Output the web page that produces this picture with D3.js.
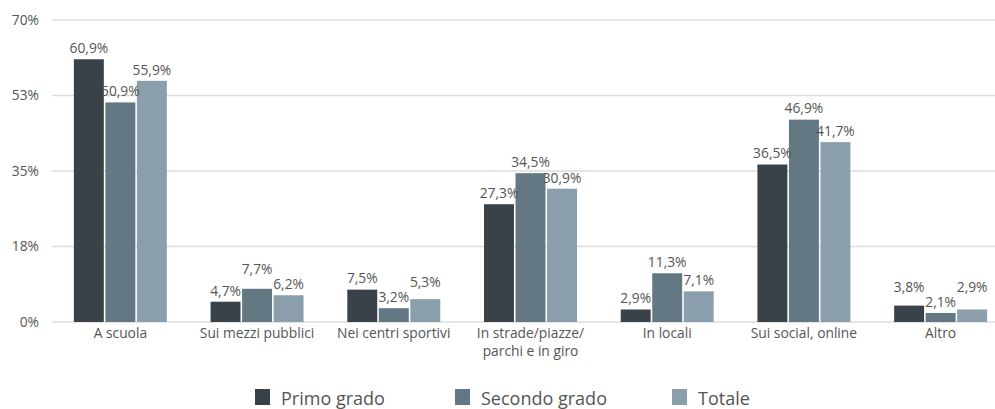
<!DOCTYPE html>
<html><head><meta charset="utf-8">
<script src="https://cdn.jsdelivr.net/npm/d3@7"></script>
<style>
body{margin:0;background:#fff;}
text{font-family:"Open Sans",sans-serif;}
</style></head>
<body><svg id="c" width="995" height="409"></svg>
<script>
const categories = ["A scuola","Sui mezzi pubblici","Nei centri sportivi","In strade/piazze/\nparchi e in giro","In locali","Sui social, online","Altro"];
const seriesNames = ["Primo grado","Secondo grado","Totale"];
const primoGrado = [60.9,4.7,7.5,27.3,2.9,36.5,3.8];
const secondoGrado = [50.9,7.7,3.2,34.5,11.3,46.9,2.1];
const totale = [55.9,6.2,5.3,30.9,7.1,41.7,2.9];
const yTicks = [0,17.5,35,52.5,70];
const yTickLabels = ["0%","18%","35%","53%","70%"];
const colors = ["#3a4249","#637882","#8a9fab"];

const seriesValues = [primoGrado, secondoGrado, totale];
const svg = d3.select("#c");
const y = d3.scaleLinear().domain([0,70]).range([322,20]);
const x0 = d3.scaleBand().domain(categories).range([52,1009]).paddingInner(0.32).paddingOuter(0.16);
const x1 = d3.scaleBand().domain(seriesNames).range([0,x0.bandwidth()]).paddingInner(0.05);

svg.append("g").selectAll("line").data(yTicks).join("line")
  .attr("x1",52).attr("x2",995)
  .attr("y1",d=>y(d)).attr("y2",d=>y(d))
  .attr("stroke","#dcdcdc").attr("stroke-width",1.5);

svg.append("g").selectAll("text").data(yTicks).join("text")
  .attr("x",39).attr("y",d=>y(d)).attr("dy","0.35em")
  .attr("text-anchor","end").attr("font-size",13.8).attr("fill","#555")
  .text((d,i)=>yTickLabels[i]);

const groups = svg.append("g").selectAll("g").data(categories).join("g")
  .attr("transform",d=>`translate(${x0(d)},0)`);
groups.each(function(cat,ci){
  const g = d3.select(this);
  seriesNames.forEach((s,si)=>{
    const v = seriesValues[si][ci];
    g.append("rect").attr("x",x1(s)).attr("width",x1.bandwidth())
      .attr("y",y(v)).attr("height",y(0)-y(v)).attr("fill",colors[si]);
  });
  const labels = seriesNames.map((s,si)=>{
    const v = seriesValues[si][ci];
    const t = g.append("text").attr("x",x1(s)+x1.bandwidth()/2)
      .attr("text-anchor","middle").attr("font-size",13.8).attr("fill","#555")
      .attr("dy","0.35em")
      .text(v.toFixed(1).replace(".",",")+"%");
    return {t, x:x1(s)+x1.bandwidth()/2, cy:y(v)-11, w:t.node().getComputedTextLength()};
  });
  // simple collision avoidance: push the higher label upward
  for(let pass=0;pass<4;pass++){
    for(let i=0;i<labels.length-1;i++){
      const a=labels[i], b=labels[i+1];
      const hOverlap = Math.abs(a.x-b.x) < (a.w+b.w)/2 + 2;
      if(hOverlap && Math.abs(a.cy-b.cy) < 15){
        if(a.cy<=b.cy) a.cy = b.cy-15; else b.cy = a.cy-15;
      }
    }
  }
  labels.forEach(l=>l.t.attr("y",l.cy));
});

svg.append("g").selectAll("text").data(categories).join("text")
  .attr("x",d=>x0(d)+x0.bandwidth()/2).attr("y",338)
  .attr("text-anchor","middle").attr("font-size",13.8).attr("fill","#555")
  .each(function(d){
    const t = d3.select(this);
    d.split("\n").forEach((line,i)=>{
      t.append("tspan").attr("x",x0(d)+x0.bandwidth()/2).attr("dy",i?17.5:0).text(line);
    });
  });

const legX = [255,455,672];
const leg = svg.append("g").selectAll("g").data(seriesNames).join("g")
  .attr("transform",(d,i)=>`translate(${legX[i]},389)`);
leg.append("rect").attr("width",15).attr("height",16).attr("fill",(d,i)=>colors[i]);
leg.append("text").attr("x",26).attr("y",16).attr("font-size",18).attr("fill","#555").text(d=>d);
</script></body></html>
